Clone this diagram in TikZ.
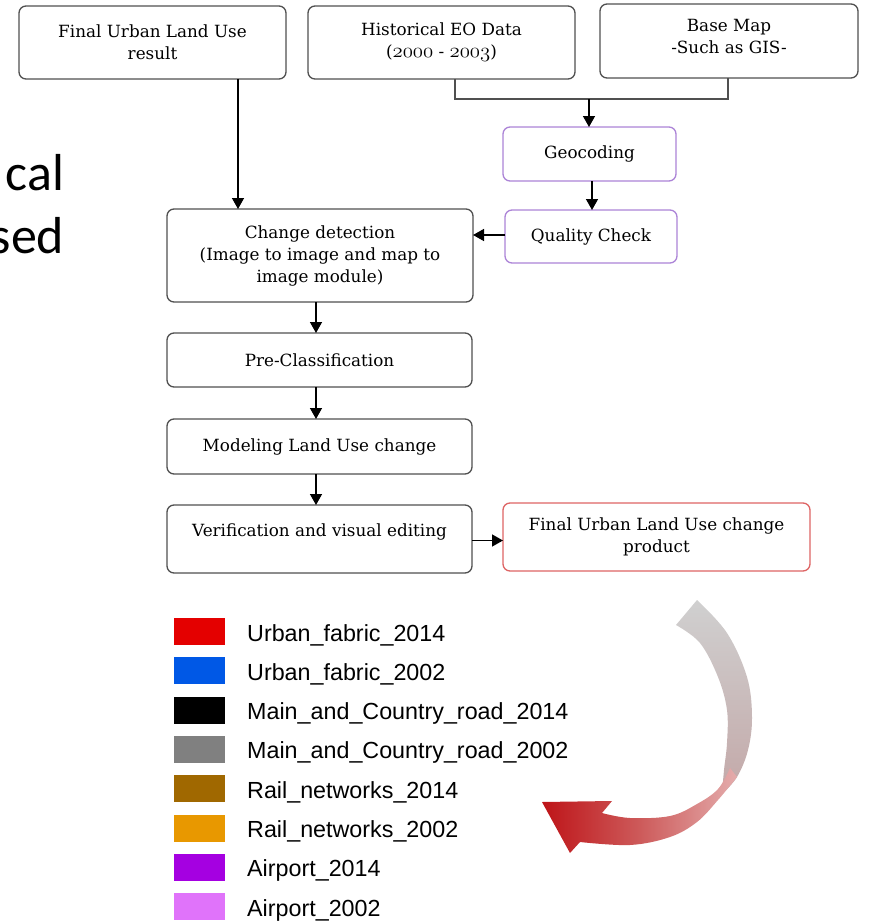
\documentclass[tikz,border=0pt]{standalone}
\usepackage{fontspec}
\newfontfamily\legfont{Liberation Sans}
\newfontfamily\bigfont{Carlito}
\newfontfamily\boxfont{DejaVu Serif}
\usetikzlibrary{arrows.meta}
\definecolor{boxline}{RGB}{80,80,80}
\definecolor{purp}{RGB}{172,132,215}
\definecolor{redline}{RGB}{222,100,100}
\definecolor{arrgray}{RGB}{208,208,208}
\definecolor{arrmauve}{RGB}{195,168,168}
\definecolor{arrred}{RGB}{190,20,24}
\definecolor{arrmid}{RGB}{205,90,90}
\definecolor{arrpink}{RGB}{228,172,172}
\definecolor{lc1}{RGB}{228,0,0}
\definecolor{lc2}{RGB}{0,88,230}
\definecolor{lc3}{RGB}{0,0,0}
\definecolor{lc4}{RGB}{128,128,128}
\definecolor{lc5}{RGB}{160,104,0}
\definecolor{lc6}{RGB}{232,152,0}
\definecolor{lc7}{RGB}{165,0,225}
\definecolor{lc8}{RGB}{224,115,250}
\newcommand\osn[1]{{\fontsize{20.74}{22}\usefont{OML}{cmm}{m}{it}#1}}
\begin{document}
\begin{tikzpicture}[x=1pt,y=-1pt,
  box/.style={draw=boxline, line width=1.3pt, rounded corners=7pt, fill=white,
    inner sep=0pt, outer sep=0pt, align=center,
    font=\boxfont\fontsize{16.8}{22}\selectfont},
  pbox/.style={box, draw=purp},
  rbox/.style={box, draw=redline},
  arr/.style={-{Triangle[length=11pt,width=12pt]}, line width=1.4pt, black},
  link/.style={line width=1.4pt, boxline},
  swatch/.style={inner sep=0pt, outer sep=0pt, minimum width=51pt, minimum height=27pt},
  legtext/.style={anchor=base west, inner sep=0pt, font=\legfont\fontsize{23.3}{26}\selectfont},
  bigtext/.style={anchor=base east, inner sep=0pt, font=\bigfont\fontsize{52}{60}\selectfont}]
\useasboundingbox (0,0) rectangle (868,921);

% cut-off side text
\node[bigtext] (t1) at (64.5,190) {cal};
\node[bigtext] (t2) at (64.5,253) {sed};

% boxes
\node[box, minimum width=267pt, minimum height=73pt] (B1) at (152.5,42.5)
  {Final Urban Land Use\\result};
\node[box, minimum width=267pt, minimum height=73pt] (B2) at (441.5,42.5)
  {Historical EO Data\\(\osn{2000} - \osn{2003})};
\node[box, minimum width=258pt, minimum height=74pt, text depth=9pt] (B3) at (729,41)
  {Base Map\\-Such as GIS-};
\node[pbox, minimum width=173pt, minimum height=54pt] (G) at (589.5,154) {Geocoding};
\node[pbox, minimum width=172pt, minimum height=53pt] (Q) at (591,236.5) {Quality Check};
\node[box, minimum width=306pt, minimum height=93pt] (CD) at (320,255.5)
  {Change detection\\(Image to image and map to\\image module)};
\node[box, minimum width=305pt, minimum height=54pt] (P) at (319.5,360) {Pre-Classification};
\node[box, minimum width=305pt, minimum height=55pt] (M) at (319.5,446.5) {Modeling Land Use change};
\node[box, minimum width=305pt, minimum height=68pt, text height=13pt, text depth=18pt] (V) at (319.5,539)
  {Verification and visual editing};
\node[rbox, minimum width=307pt, minimum height=68pt] (F) at (656.5,537)
  {Final Urban Land Use change\\product};

% connectors
\coordinate (mj) at (589,99);
\draw[link] ([xshift=13.5pt]B2.south) |- (mj) -| ([xshift=-1pt]B3.south);
\draw[arr] (mj) -- (mj |- G.north);
\draw[arr] ([xshift=2.5pt]G.south) -- ([xshift=2.5pt]G.south |- Q.north);
\draw[arr] ([yshift=1.5pt]Q.west) -- ([yshift=1.5pt]Q.west -| CD.east);
\draw[arr] ([xshift=85.5pt]B1.south) -- ([xshift=85.5pt]B1.south |- CD.north);
\draw[arr] ([xshift=-4pt]CD.south) -- ([xshift=-4pt]CD.south |- P.north);
\draw[arr] ([xshift=-3.5pt]P.south) -- ([xshift=-3.5pt]P.south |- M.north);
\draw[arr] ([xshift=-3.5pt]M.south) -- ([xshift=-3.5pt]M.south |- V.north);
\draw[arr] ([yshift=-1.5pt]V.east) -- ([yshift=-1.5pt]V.east -| F.west);

% legend
\foreach \i/\c/\t in {0/lc1/Urban\_fabric\_2014, 1/lc2/Urban\_fabric\_2002,
    2/lc3/Main\_and\_Country\_road\_2014, 3/lc4/Main\_and\_Country\_road\_2002,
    4/lc5/Rail\_networks\_2014, 5/lc6/Rail\_networks\_2002,
    6/lc7/Airport\_2014, 7/lc8/Airport\_2002}{
  \node[swatch, fill=\c] (sw\i) at (199.5,631.5+39.3*\i) {};
  \node[legtext] (lt\i) at (247,641+39.3*\i) {\t};
}

% curved ribbon arrow
\shade[top color=arrgray, bottom color=arrmauve]
  plot[smooth, tension=0.6] coordinates {(697,600) (727,633) (747,677) (752,717) (748,750) (737,777) (722,794)}
  -- plot[smooth, tension=0.6] coordinates {(722,794) (724,770) (727,743) (727,710) (718,677) (700,643) (676,625)}
  -- cycle;
\shade[left color=arrred, right color=arrpink, middle color=arrmid]
  plot[smooth, tension=0.6] coordinates {(737,777) (718,800) (697,822) (670,837) (630,845) (580,842)}
  -- (570,853) -- (542,802) -- (612,801)
  -- plot[smooth, tension=0.6] coordinates {(602,813) (630,818) (670,816) (697,804) (718,789) (730,768)}
  -- cycle;
\end{tikzpicture}
\end{document}
